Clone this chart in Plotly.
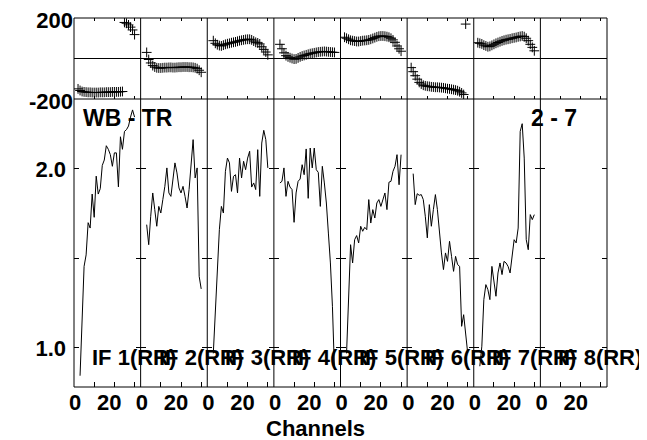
import plotly.graph_objects as go

# ---------------- data ----------------
amp_channels = list(range(3, 31))
amp_if1 = [0.845, 1.15, 1.456, 1.52, 1.70, 1.67, 1.86, 1.73, 1.96, 1.86, 1.89, 2.02, 2.05, 2.13,
           2.11, 2.08, 2.015, 2.09, 2.09, 1.90, 2.18, 2.11, 2.21, 2.22, 2.24, 2.29, 2.33, 2.29]
amp_if2 = [1.689, 1.577, 1.736, 1.866, 1.773, 1.680, 1.791, 1.754, 1.829, 1.903, 2.006, 1.866, 1.847, 1.940,
           2.034, 1.978, 1.894, 1.866, 1.903, 1.847, 1.782, 1.885, 2.015, 2.164, 1.950, 2.006, 1.40, 1.33]
amp_if3 = [0.97, 1.20, 1.43, 1.661, 1.791, 1.754, 1.987, 2.061, 2.034, 1.875, 1.959, 1.968, 1.866, 2.061,
           1.950, 2.043, 1.996, 2.061, 2.099, 1.899, 1.922, 1.885, 2.108, 1.847, 2.145, 2.216, 2.164, 2.006]
amp_if4 = [1.922, 1.931, 2.006, 1.847, 1.931, 1.899, 1.885, 1.702, 1.866, 1.931, 1.944, 2.024, 1.968, 2.112,
           1.836, 2.117, 2.006, 2.117, 1.996, 1.981, 1.791, 2.015, 1.922, 1.810, 1.642, 1.475, 1.233, 0.88]
amp_if5 = [0.97, 1.27, 1.577, 1.475, 1.605, 1.628, 1.587, 1.680, 1.652, 1.674, 1.661, 1.829, 1.698, 1.773,
           1.726, 1.810, 1.829, 1.791, 1.832, 1.866, 1.773, 1.926, 1.931, 1.987, 2.015, 2.080, 1.912, 2.080]
amp_if6 = [1.974, 1.801, 1.862, 1.853, 1.857, 1.829, 1.736, 1.615, 1.801, 1.680, 1.773, 1.857, 1.773, 1.642,
           1.531, 1.438, 1.531, 1.484, 1.596, 1.512, 1.428, 1.512, 1.466, 1.456, 1.121, 1.186, 1.084, 0.972]
amp_if7 = [0.898, 1.01, 1.27, 1.354, 1.326, 1.270, 1.456, 1.382, 1.289, 1.419, 1.475, 1.410, 1.484, 1.475,
           1.456, 1.419, 1.531, 1.605, 1.587, 1.670, 2.210, 2.253, 2.061, 1.605, 1.549, 1.745, 1.717, 1.745]
amp_if8 = []

ph_ch_2_30 = list(range(2, 31))
ph_ch_3_30 = list(range(3, 31))
ph_ch_2_29 = list(range(2, 30))
phase_if1 = [-150, -158, -163, -165, -166, -167, -167, -168, -168, -168, -168, -167, -167, -167, -166,
             -166, -166, -165, -165, -165, -165, -164, -163, 178, 174, 166, 155, 141, 118]
phase_if2 = [30, -5, -22, -35, -42, -46, -47, -47, -46, -45, -45, -44, -44, -45, -45, -44, -43, -43,
             -42, -42, -42, -43, -43, -44, -46, -50, -58, -68]
phase_if3 = [88, 75, 68, 64, 62, 66, 70, 73, 75, 78, 80, 82, 85, 88, 90, 92, 94, 95, 95, 92, 86, 80,
             77, 72, 58, 45, 32, 18]
phase_if4 = [70, 48, 28, 14, 8, 4, 0, -3, -2, 3, 8, 12, 15, 18, 21, 24, 26, 28, 30, 32, 33, 34, 35,
             34, 33, 32, 31, 30]
phase_if5 = [105, 100, 95, 90, 88, 86, 84, 84, 86, 88, 89, 90, 92, 95, 99, 103, 107, 110, 111, 111,
             110, 108, 105, 100, 92, 80, 62, 48, 36]
phase_if6 = [-45, -65, -85, -102, -118, -126, -132, -135, -137, -138, -140, -141, -142, -142, -143,
             -144, -145, -147, -149, -150, -152, -154, -156, -159, -164, -170, -178, 170]
phase_if7 = [78, 75, 72, 66, 62, 58, 60, 65, 70, 75, 79, 83, 87, 90, 93, 95, 97, 100, 102, 104, 107,
             109, 111, 108, 100, 88, 70, 55, 38]
phase_if8 = []

amp_series = [(amp_channels, amp_if1), (amp_channels, amp_if2), (amp_channels, amp_if3),
              (amp_channels, amp_if4), (amp_channels, amp_if5), (amp_channels, amp_if6),
              (amp_channels, amp_if7), ([], amp_if8)]
phase_series = [(ph_ch_2_30, phase_if1), (ph_ch_3_30, phase_if2), (ph_ch_3_30, phase_if3),
                (ph_ch_3_30, phase_if4), (ph_ch_2_30, phase_if5), (ph_ch_2_29, phase_if6),
                (ph_ch_2_30, phase_if7), ([], phase_if8)]

if_labels = ["IF 1(RR)", "IF 2(RR)", "IF 3(RR)", "IF 4(RR)", "IF 5(RR)", "IF 6(RR)", "IF 7(RR)", "IF 8(RR)"]
x_label_vals = [0.6, 17.5]
x_label_text = ["0", "20"]
x_tick_vals = [10, 20, 30]
amp_tick_vals = [1.0, 1.5, 2.0]
amp_tick_text = ["1.0", "", "2.0"]
phase_tick_vals = [-200, 200]
phase_tick_text = ["-200", "200"]

# ---------------- geometry (page pixels; page body has an 8px offset) ----------------
W, H = 647, 440
OFF = 8
PL, PR, PT, PB, PS = 74, 607, 18, 387, 99   # plot left/right/top/bottom and phase/amp split (page px)
ML, MT = PL - OFF, PT - OFF
MR = W - (PR - OFF)
MB = H - (PB - OFF)
plot_w = PR - PL
plot_h = PB - PT
split = (PB - PS) / plot_h
NP = 8
X_RANGE = [0, 33]
AMP_RANGE = [0.782, 2.391]
PH_RANGE = [-200, 200]

FONT = dict(family="Liberation Sans, Arial, sans-serif", size=22, color="black", weight="bold")
FONT_BIG = dict(family="Liberation Sans, Arial, sans-serif", size=23, color="black", weight="bold")

fig = go.Figure()
layout = {}
for k in range(1, NP + 1):
    dom = [(k - 1) / NP, k / NP]
    ka, kp = k, NP + k
    xs, ys = amp_series[k - 1]
    fig.add_trace(go.Scatter(x=xs, y=ys, mode="lines", line=dict(color="black", width=1),
                             xaxis=f"x{ka}", yaxis=f"y{ka}", showlegend=False, hoverinfo="skip"))
    px_, py_ = phase_series[k - 1]
    fig.add_trace(go.Scatter(x=px_, y=py_, mode="markers",
                             marker=dict(symbol="cross-thin", size=7, color="black",
                                         line=dict(color="black", width=1)),
                             xaxis=f"x{kp}", yaxis=f"y{kp}", showlegend=False, hoverinfo="skip"))
    layout[f"xaxis{ka}"] = dict(domain=dom, anchor=f"y{ka}", range=X_RANGE, showline=False,
                                mirror="ticks", showgrid=False, zeroline=False, tickmode="array",
                                tickvals=x_label_vals, ticktext=x_label_text, ticks="", tickfont=FONT,
                                minor=dict(tickmode="array", tickvals=x_tick_vals, ticks="inside",
                                           ticklen=5, tickcolor="black", tickwidth=1, showgrid=False))
    layout[f"yaxis{ka}"] = dict(domain=[0, split], anchor=f"x{ka}", range=AMP_RANGE, showline=False,
                                mirror="ticks", showgrid=False, zeroline=False, tickmode="array",
                                tickvals=amp_tick_vals, ticktext=amp_tick_text, ticks="inside",
                                ticklen=5, tickcolor="black", showticklabels=(k == 1), tickfont=FONT,
                                ticklabelstandoff=7)
    layout[f"xaxis{kp}"] = dict(domain=dom, anchor=f"y{kp}", range=X_RANGE, showline=False,
                                mirror="ticks", showgrid=False, zeroline=False, showticklabels=False,
                                tickmode="array", tickvals=x_tick_vals, ticks="inside", ticklen=3,
                                tickcolor="black")
    layout[f"yaxis{kp}"] = dict(domain=[split, 1], anchor=f"x{kp}", range=PH_RANGE, showline=False,
                                showgrid=False, zeroline=True, zerolinecolor="black", zerolinewidth=1,
                                tickmode="array", tickvals=phase_tick_vals, ticktext=phase_tick_text,
                                ticks="", showticklabels=(k == 1), tickfont=FONT, ticklabelstandoff=0,
                                ticklabeloverflow="allow", ticklabelshift=2)

# frame lines: outer box, panel boundaries and the phase/amplitude split
shapes = [dict(type="rect", xref="paper", yref="paper", x0=0, x1=1, y0=0, y1=1,
               line=dict(color="black", width=1))]
for k in range(1, NP):
    shapes.append(dict(type="line", xref="paper", yref="paper", x0=k / NP, x1=k / NP, y0=0, y1=1,
                       line=dict(color="black", width=1)))
shapes.append(dict(type="line", xref="paper", yref="paper", x0=0, x1=1, y0=split, y1=split,
                   line=dict(color="black", width=1)))


def px_to_paper(xp, yp):
    return (xp - PL) / plot_w, (PB - yp) / plot_h


annotations = []
ax_, ay_ = px_to_paper(80.7, 118)
annotations.append(dict(text="WB - TR", x=ax_, y=ay_, xref="paper", yref="paper",
                        xanchor="left", yanchor="middle", showarrow=False, font=FONT_BIG))
ax_, ay_ = px_to_paper(579.3, 118)
annotations.append(dict(text="2 - 7", x=ax_, y=ay_, xref="paper", yref="paper",
                        xanchor="right", yanchor="middle", showarrow=False, font=FONT_BIG))
for i, lab in enumerate(if_labels):
    ax_, ay_ = px_to_paper(90 + i * plot_w / NP, 357.5)
    annotations.append(dict(text=lab, x=ax_, y=ay_, xref="paper", yref="paper",
                            xanchor="left", yanchor="middle", showarrow=False, font=FONT))
ax_, ay_ = px_to_paper(315, 428.5)
annotations.append(dict(text="Channels", x=ax_, y=ay_, xref="paper", yref="paper",
                        xanchor="center", yanchor="middle", showarrow=False, font=FONT))

fig.update_layout(width=W, height=H, margin=dict(l=ML, r=MR, t=MT, b=MB, autoexpand=False),
                  paper_bgcolor="white", plot_bgcolor="white", annotations=annotations,
                  shapes=shapes, showlegend=False, **layout)

fig.write_html("out.html")
